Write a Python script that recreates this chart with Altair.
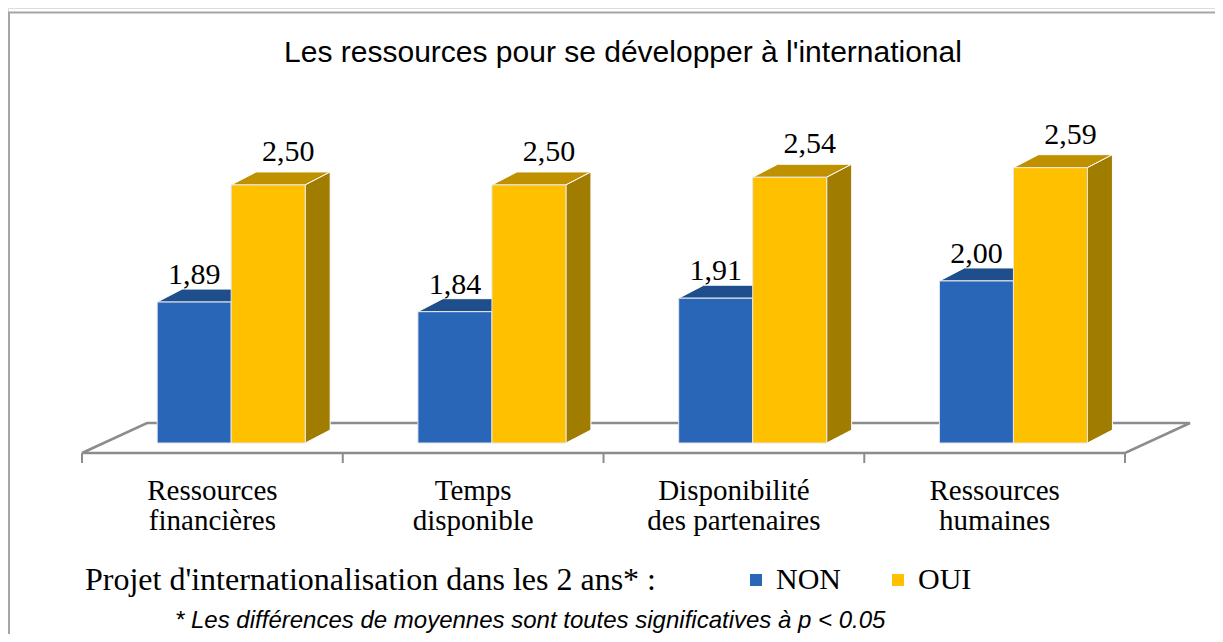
import altair as alt
import pandas as pd

# ---------------- data ----------------
categories = ["Ressources\nfinancières", "Temps\ndisponible",
              "Disponibilité\ndes partenaires", "Ressources\nhumaines"]
series = ["NON", "OUI"]
values_non = [1.89, 1.84, 1.91, 2.00]
values_oui = [2.50, 2.50, 2.54, 2.59]

title_text = "Les ressources pour se développer à l'international"
legend_title = "Projet d'internationalisation dans les 2 ans* :"
footnote = "* Les différences de moyennes sont toutes significatives à p < 0.05"

# ---------------- styling / geometry ----------------
W, H = 1207, 626
PX_X = 260.75           # pixels per category slot
CAT0 = 204.4            # chart-x of first category centre
PX_Y = 192.0            # pixels per value unit
BASE = 1.156            # value at bar bottoms (axis start)
YMAX = BASE + 435 / PX_Y
YMIN = YMAX - H / PX_Y
XMIN = -CAT0 / PX_X
XMAX = (W - CAT0) / PX_X

BW = 74 / PX_X          # bar width
SHIFT = 0.072           # group centre shift (depth)
DX = 25 / PX_X          # bar depth x
DY = 13 / PX_Y          # bar depth y
FLOOR_FRONT = BASE - 10 / PX_Y
FLOOR_DX = 65 / PX_X
FLOOR_DY = 30 / PX_Y
TICK = 10 / PX_Y

front_col = {"NON": "#2966B8", "OUI": "#FFC000"}
top_col = {"NON": "#1F4E8C", "OUI": "#BF9000"}
side_col = {"NON": "#1A427A", "OUI": "#A07C00"}
label_dx = {"NON": 0.0, "OUI": 20 / PX_X}
label_dy = {"NON": 5 / PX_Y, "OUI": 11 / PX_Y}

SERIF = "Liberation Serif, Times New Roman, serif"
SANS = "Liberation Sans, Arial, sans-serif"

# ---------------- tables ----------------
bars, faces, labels = [], [], []
for i, cat in enumerate(categories):
    for k, (s, vals) in enumerate(zip(series, [values_non, values_oui])):
        v = vals[i]
        x0 = i + SHIFT - BW + k * BW
        bars.append(dict(serie=s, x=x0, x2=x0 + BW, v=v, base=BASE))
        fid = f"{i}-{s}"
        # top face (parallelogram)
        for xx, lo, hi in [(x0, v, v), (x0 + DX, v, v + DY),
                           (x0 + BW, v, v + DY), (x0 + BW + DX, v + DY, v + DY)]:
            faces.append(dict(face=fid + "-top", x=xx, lo=lo, hi=hi, fill=top_col[s]))
        # side face
        for xx, lo, hi in [(x0 + BW, BASE, v), (x0 + BW + DX, BASE + DY, v + DY)]:
            faces.append(dict(face=fid + "-side", x=xx, lo=lo, hi=hi, fill=side_col[s]))
        labels.append(dict(x=x0 + BW / 2 + label_dx[s], y=v + DY + label_dy[s],
                           txt=f"{v:.2f}".replace(".", ",")))

bars = pd.DataFrame(bars)
faces = pd.DataFrame(faces)
labels = pd.DataFrame(labels)

n = len(categories)
floor = pd.DataFrame([
    dict(x=-0.5, y=FLOOR_FRONT, o=0),
    dict(x=n - 0.5, y=FLOOR_FRONT, o=1),
    dict(x=n - 0.5 + FLOOR_DX, y=FLOOR_FRONT + FLOOR_DY, o=2),
    dict(x=-0.5 + FLOOR_DX, y=FLOOR_FRONT + FLOOR_DY, o=3),
    dict(x=-0.5, y=FLOOR_FRONT, o=4),
])
ticks = pd.DataFrame(dict(x=[i - 0.5 for i in range(n + 1)],
                          y=[FLOOR_FRONT] * (n + 1), y2=[FLOOR_FRONT - TICK] * (n + 1)))
cats = pd.DataFrame(dict(x=list(range(n)), cat=categories))

xs = alt.Scale(domain=[XMIN, XMAX], nice=False, zero=False)
ys = alt.Scale(domain=[YMIN, YMAX], nice=False, zero=False)
X = lambda f: alt.X(f, type="quantitative", scale=xs, axis=None)
Y = lambda f: alt.Y(f, type="quantitative", scale=ys, axis=None, stack=None)

frame = alt.Chart(pd.DataFrame({"a": [0]})).mark_rect(
    fill=None, stroke="#A6A6A6", strokeWidth=2
).encode(x=alt.value(1), x2=alt.value(1400), y=alt.value(4.5), y2=alt.value(900))

floor_l = alt.Chart(floor).mark_line(color="#8C8C8C", strokeWidth=2.5).encode(
    x=X("x"), y=Y("y"), order="o:Q")
ticks_l = alt.Chart(ticks).mark_rule(color="#8C8C8C", strokeWidth=2).encode(
    x=X("x"), y=Y("y"), y2="y2")

faces_l = alt.Chart(faces).mark_area(stroke="white", strokeWidth=1).encode(
    x=X("x"), y=Y("hi"), y2="lo", detail="face:N",
    fill=alt.Fill("fill:N", scale=None))

fronts = alt.Chart(bars).mark_rect(stroke="#E6E6E6", strokeWidth=1).encode(
    x=X("x"), x2="x2", y=Y("v"), y2="base",
    color=alt.Color("serie:N",
                    scale=alt.Scale(domain=series, range=[front_col[s] for s in series]),
                    legend=alt.Legend(title=None, orient="none", direction="horizontal",
                                      legendX=733, legendY=557, symbolType="square",
                                      symbolSize=144, symbolStrokeWidth=0,
                                      labelFont=SERIF, labelFontSize=30, labelColor="black",
                                      labelOffset=5, columnPadding=42)))

val_l = alt.Chart(labels).mark_text(font=SERIF, fontSize=30, baseline="alphabetic",
                                    color="black").encode(
    x=X("x"), y=Y("y"), text="txt:N")

cat_l = alt.Chart(cats).mark_text(font=SERIF, fontSize=29, baseline="alphabetic",
                                  lineBreak="\n", lineHeight=30, color="black").encode(
    x=X("x"), y=alt.value(492), text="cat:N")

one = pd.DataFrame({"t": [title_text], "l": [legend_title], "f": [footnote]})
title_l = alt.Chart(one).mark_text(font=SANS, fontSize=30, baseline="alphabetic",
                                   color="black").encode(
    x=alt.value(615), y=alt.value(54), text="t:N")
leg_title = alt.Chart(one).mark_text(font=SERIF, fontSize=32, baseline="alphabetic",
                                     align="left", color="black").encode(
    x=alt.value(77), y=alt.value(582), text="l:N")
foot_l = alt.Chart(one).mark_text(font=SANS, fontSize=24, fontStyle="italic",
                                  baseline="alphabetic", align="left", color="black").encode(
    x=alt.value(167), y=alt.value(620), text="f:N")

chart = alt.layer(frame, floor_l, ticks_l, faces_l, fronts, val_l, cat_l,
                  title_l, leg_title, foot_l).properties(
    width=W, height=H, autosize=alt.AutoSizeParams(type="none"), padding=0
).configure_view(stroke=None).configure(background="white")

chart.save("out.html", embed_options={"renderer": "svg", "actions": False})
